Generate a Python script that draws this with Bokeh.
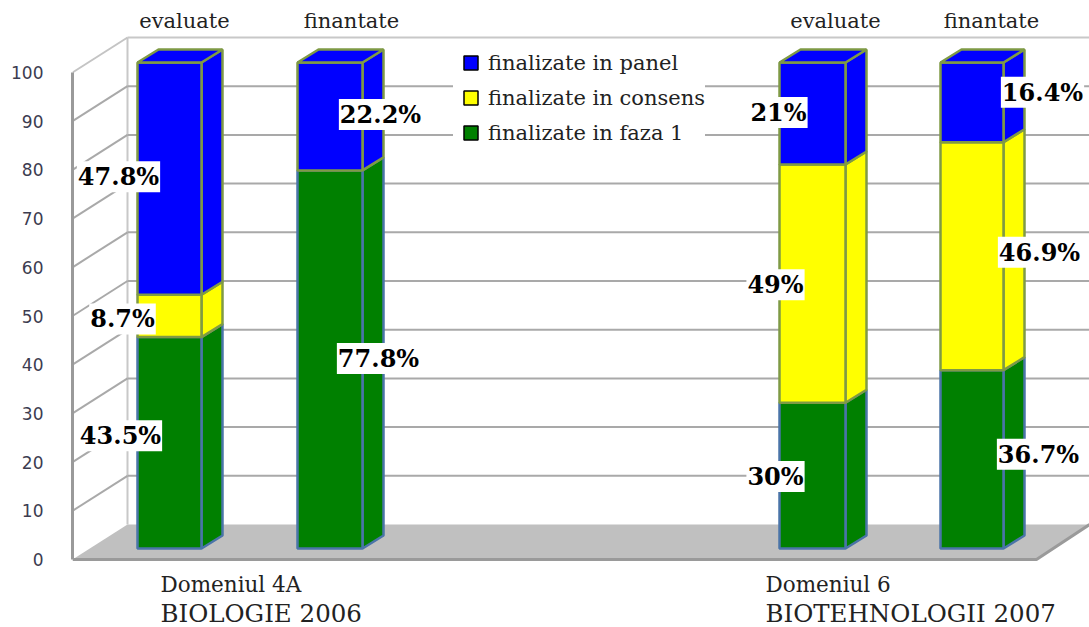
from bokeh.plotting import figure
from bokeh.models import Range1d, LinearAxis, FixedTicker, Legend, LegendItem, ColumnDataSource
from bokeh.core.properties import value
from bokeh.embed import file_html
from bokeh.resources import INLINE

# ---- data -------------------------------------------------------------
series_names = ["finalizate in faza 1", "finalizate in consens", "finalizate in panel"]
faza1 = [43.5, 77.8, 30.0, 36.7]
consens = [8.7, 0.0, 49.0, 46.9]
panel = [47.8, 22.2, 21.0, 16.4]
axis_ticks = [0, 10, 20, 30, 40, 50, 60, 70, 80, 90, 100]
bar_names = ["evaluate", "finantate", "evaluate", "finantate"]
domain_title = ["Domeniul 4A", "Domeniul 6"]
domain_sub = ["BIOLOGIE 2006", "BIOTEHNOLOGII 2007"]
label_faza1 = ["43.5%", "77.8%", "30%", "36.7%"]
label_consens = ["8.7%", "", "49%", "46.9%"]
label_panel = ["47.8%", "22.2%", "21%", "16.4%"]

# ---- layout ------------------------------------------------------------
W, H, LEFT = 1089, 627, 72
BASE_PX, PX_PER = 548.0, 4.86          # bar scale
AX_BASE_PX, AX_PX_PER = 559.0, 4.87    # axis / wall scale
bar_left = [137, 297, 779, 940]
bar_width = [64, 65, 66, 63]
BAR_DX, BAR_DY = 21, 13 / PX_PER
WALL_DX, WALL_DY = 55, 35 / AX_PX_PER
FLOOR_RIGHT = 1036
BLUE, YELLOW, GREEN = "#0000ff", "#ffff00", "#008000"
OLIVE, STEEL, GRID = "#7f9a45", "#4a74a8", "#a9a9a9"
SERIF = value("DejaVu Serif")

p = figure(width=W, height=H, frame_width=W - LEFT, frame_height=H,
           min_border_left=LEFT, min_border_right=0, min_border_top=0, min_border_bottom=0,
           x_range=Range1d(LEFT, W),
           y_range=Range1d((BASE_PX - H) / PX_PER, BASE_PX / PX_PER),
           output_backend="svg", toolbar_location=None,
           x_axis_location=None, y_axis_location=None,
           outline_line_color=None, background_fill_color="white", border_fill_color="white",
           margin=(-8, 0, 0, -8), styles={"position": "absolute", "left": "8px", "top": "8px"})
p.grid.visible = False
p.extra_y_ranges = {"axis": Range1d((AX_BASE_PX - H) / AX_PX_PER, AX_BASE_PX / AX_PX_PER)}

# axis on the front wall edge
ax = LinearAxis(y_range_name="axis", ticker=FixedTicker(ticks=axis_ticks), bounds=(0, 100),
                axis_line_color="#9a9a9a", axis_line_width=3,
                major_tick_line_color=None, minor_tick_line_color=None,
                major_label_standoff=23, major_label_text_color="#3c3c50",
                major_label_text_font="DejaVu Sans", major_label_text_font_size="17px")
p.add_layout(ax, "left")

# floor
x0 = LEFT
floor_x = [x0, x0 + WALL_DX, W, FLOOR_RIGHT]
floor_y = [0, WALL_DY, WALL_DY, 0]
p.patch(floor_x, floor_y, y_range_name="axis", fill_color="#c0c0c0", line_color=None)
p.line([x0, FLOOR_RIGHT, W], [0, 0, WALL_DY], y_range_name="axis", line_color="#9a9a9a", line_width=3)

# walls and gridlines
p.line([x0 + WALL_DX] * 2, [WALL_DY, 100 + WALL_DY], y_range_name="axis", line_color="#c8c8c8", line_width=2)
for t in axis_ticks[1:]:
    top = t == axis_ticks[-1]
    p.line([x0, x0 + WALL_DX], [t, t + WALL_DY], y_range_name="axis",
           line_color="#c4c4c4" if top else GRID, line_width=2)
    p.line([x0 + WALL_DX, W], [t + WALL_DY] * 2, y_range_name="axis",
           line_color="#c8c8c8" if top else GRID, line_width=2)

# stacked 3D bars
stacks = [(faza1, GREEN, STEEL), (consens, YELLOW, OLIVE), (panel, BLUE, OLIVE)]
bottoms = [0.0] * 4
for vals, color, edge in stacks:
    tops = [b + v for b, v in zip(bottoms, vals)]
    keep = [i for i, v in enumerate(vals) if v > 0]
    lefts = [bar_left[i] for i in keep]
    rights = [bar_left[i] + bar_width[i] for i in keep]
    bs = [bottoms[i] for i in keep]
    ts = [tops[i] for i in keep]
    side_xs = [[r, r + BAR_DX, r + BAR_DX, r] for r in rights]
    side_ys = [[b, b + BAR_DY, t + BAR_DY, t] for b, t in zip(bs, ts)]
    p.patches(side_xs, side_ys, fill_color=color, line_color=edge, line_width=2.5)
    p.quad(left=lefts, right=rights, bottom=bs, top=ts, fill_color=color, line_color=edge, line_width=2.5)
    bottoms = tops
# bar tops
top_xs = [[l, l + w, l + w + BAR_DX, l + BAR_DX] for l, w in zip(bar_left, bar_width)]
top_ys = [[b, b, b + BAR_DY, b + BAR_DY] for b in bottoms]
p.patches(top_xs, top_ys, fill_color=BLUE, line_color=OLIVE, line_width=2.5)

# percentage labels
lab_x = {"f": [120, 378, 775, 1038], "c": [122, None, 775, 1039], "p": [118, 380, 778, 1042]}
lab_nudge = {"f": [-7, -1, 1, -5], "c": [3, 0, 1, -4], "p": [-2, -2, -1, -10]}
acc = [0.0] * 4
for key, vals, labs in (("f", faza1, label_faza1), ("c", consens, label_consens), ("p", panel, label_panel)):
    idx = [i for i, l in enumerate(labs) if l]
    src = ColumnDataSource(dict(
        x=[lab_x[key][i] for i in idx],
        y=[acc[i] + vals[i] / 2 for i in idx],
        t=[labs[i] for i in idx],
        dy=[lab_nudge[key][i] for i in idx]))
    p.text("x", "y", text="t", y_offset="dy", source=src, text_font=SERIF, text_font_style="bold",
           text_font_size="24px", text_color="black", text_align="center", text_baseline="middle",
           background_fill_color="white", padding=1)
    acc = [a + v for a, v in zip(acc, vals)]

# texts above and below
text_px = [184, 351, 835, 991]
y_from_px = lambda px: (BASE_PX - px) / PX_PER
p.text(text_px, [y_from_px(20)] * 4, text=bar_names, text_font=SERIF, text_font_size="21px",
       text_color="#222222", text_align="center", text_baseline="middle")
dom_x = [160, 765]
p.text(dom_x, [y_from_px(584)] * 2, text=domain_title, text_font=SERIF, text_font_size="21.5px",
       text_color="#222222", text_align="left", text_baseline="middle")
p.text(dom_x, [y_from_px(613)] * 2, text=domain_sub, text_font=SERIF, text_font_size="24.5px",
       text_color="#222222", text_align="left", text_baseline="middle")

# legend
swatches = {}
for name, color in zip(series_names, (GREEN, YELLOW, BLUE)):
    swatches[name] = p.scatter([-1000], [0], marker="square", size=14, fill_color=color, line_color="black", line_width=1.5)
legend = Legend(items=[LegendItem(label=n, renderers=[swatches[n]]) for n in reversed(series_names)],
                location=(381, 477), orientation="vertical", padding=0, margin=0, spacing=0,
                glyph_width=35, glyph_height=35, label_standoff=0, label_height=20,
                label_text_font="DejaVu Serif", label_text_font_size="21px", label_text_color="#222222",
                background_fill_color="white", background_fill_alpha=1, border_line_color=None)
p.add_layout(legend, "center")

open("out.html", "w").write(file_html(p, INLINE))
